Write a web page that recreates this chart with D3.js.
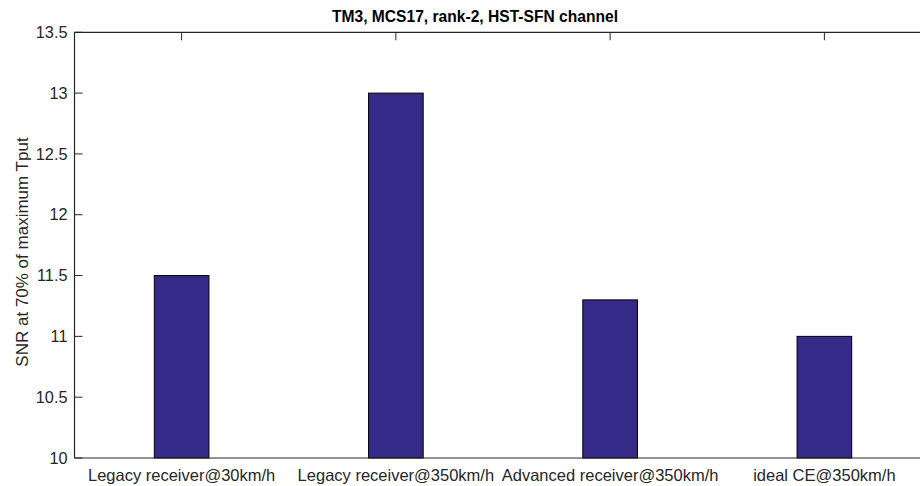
<!DOCTYPE html>
<html><head><meta charset="utf-8">
<script src="https://cdn.jsdelivr.net/npm/d3@7"></script>
<style>body{margin:0;background:#fff}svg{display:block}text{font-family:Arial,"Liberation Sans",sans-serif;fill:#262626}</style>
</head><body><svg id="c" width="920" height="486"></svg>
<script>
const categories = ["Legacy receiver@30km/h","Legacy receiver@350km/h","Advanced receiver@350km/h","ideal CE@350km/h"];
const values = [11.5, 13.0, 11.3, 11.0];
const yTicks = [10, 10.5, 11, 11.5, 12, 12.5, 13, 13.5];
const title = "TM3, MCS17, rank-2, HST-SFN channel";
const yLabel = "SNR at 70% of maximum Tput";

const svg = d3.select("#c");
const L = 74.5, R = 931.5, T = 32.3, B = 458;
const x = d3.scaleLinear().domain([0.5, 4.5]).range([L, R]);
const y = d3.scaleLinear().domain([10, 13.5]).range([B, T]);
const bw = (x(1) - x(0)) * 0.255;
const g = svg.append("g");

const idx = categories.map((d,i)=>i+1);
g.selectAll(".bt").data(idx).enter().append("line")
  .attr("x1",d=>x(d)).attr("x2",d=>x(d)).attr("y1",B).attr("y2",B-8)
  .attr("stroke","#262626");
g.selectAll(".tt").data(idx).enter().append("line")
  .attr("x1",d=>x(d)).attr("x2",d=>x(d)).attr("y1",T).attr("y2",T+8)
  .attr("stroke","#262626");
g.selectAll(".yt").data(yTicks).enter().append("line")
  .attr("x1",L).attr("x2",L+8).attr("y1",d=>y(d)).attr("y2",d=>y(d))
  .attr("stroke","#262626");

g.selectAll(".bar").data(values).enter().append("rect")
  .attr("x",(d,i)=>x(i+1)-bw/2).attr("width",bw)
  .attr("y",d=>y(d)).attr("height",d=>B-y(d))
  .attr("fill","#352a87").attr("stroke","#000").attr("stroke-width",1);

g.append("path").attr("d",`M${L},${B}V${T}H${R}`).attr("fill","none").attr("stroke","#262626").attr("stroke-width",1.2);
g.append("line").attr("x1",L).attr("x2",R).attr("y1",B).attr("y2",B).attr("stroke","#262626").attr("stroke-width",1.2);

g.selectAll(".yl").data(yTicks).enter().append("text")
  .attr("x",L-7).attr("y",d=>y(d)).attr("dy","0.35em").attr("text-anchor","end")
  .attr("font-size",16.3).text(d=>d);
g.selectAll(".xl").data(categories).enter().append("text")
  .attr("x",(d,i)=>x(i+1)).attr("y",B+23).attr("text-anchor","middle")
  .attr("font-size",16.5).text(d=>d);
svg.append("text").attr("x",475).attr("y",22).attr("text-anchor","middle")
  .attr("font-size",15.6).attr("font-weight","bold").style("fill","#000").text(title);
svg.append("text").attr("transform","translate(28,252) rotate(-90)")
  .attr("text-anchor","middle").attr("font-size",17).text(yLabel);
</script></body></html>
